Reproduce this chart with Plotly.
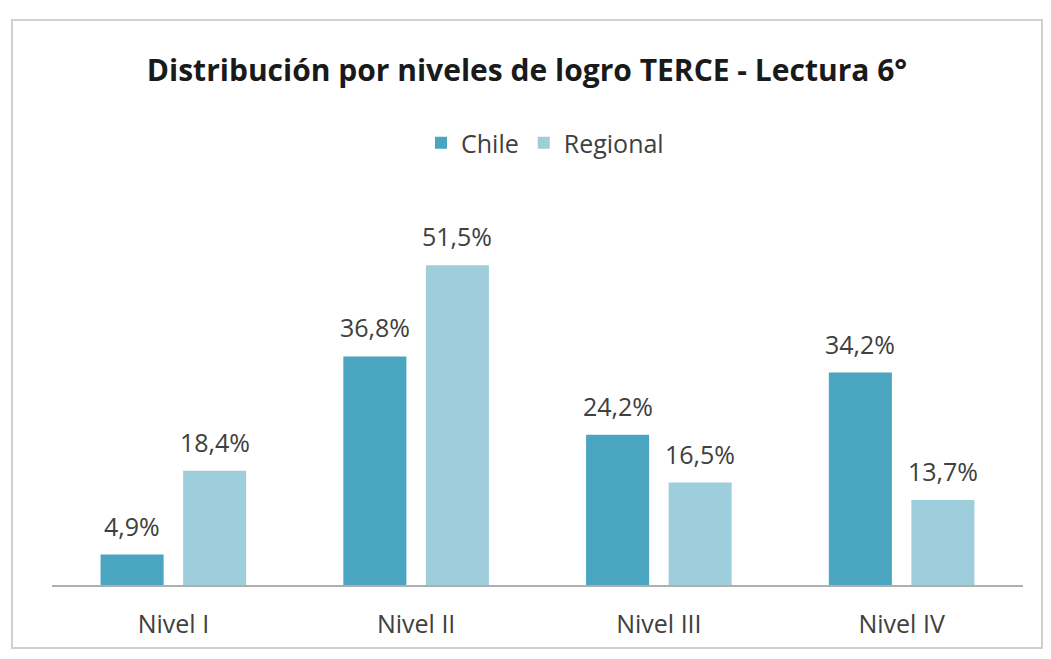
import plotly.graph_objects as go

categories = ["Nivel I", "Nivel II", "Nivel III", "Nivel IV"]
chile = [4.9, 36.8, 24.2, 34.2]
regional = [18.4, 51.5, 16.5, 13.7]
series_names = ["Chile", "Regional"]
colors = ["#4AA5C0", "#9ECDDC"]

FONT = "Open Sans"
fig = go.Figure()
for name, vals, col in zip(series_names, [chile, regional], colors):
    fig.add_trace(go.Bar(name=name, x=categories, y=vals, marker=dict(color=col, line=dict(width=0))))

# page body has an 8px default margin; layout below is expressed in page pixels
OFF = 8
W, H = 1051 - OFF, 659 - OFF
x_left, x_right, y_top, y_base = 52, 1023, 165, 585  # plot area in page pixels
left, right = x_left - OFF, (1051 - x_right)
top, bottom = y_top - OFF, 659 - y_base
plot_w = W - left - right
plot_h = H - top - bottom


def px(x):
    return (x - x_left) / plot_w


def py(y):
    return (y_base - y) / plot_h


slot = plot_w / len(categories) * (1 - 0.32) / 2

annotations = []
for k, vals in enumerate([chile, regional]):
    shift = (k - 0.5) * slot
    for c, v in zip(categories, vals):
        annotations.append(dict(x=c, y=v, xref="x", yref="y", text=f"{v:.1f}%".replace(".", ","),
                                showarrow=False, xshift=shift, yshift=29, yanchor="middle",
                                font=dict(family=FONT, size=25, color="#404040")))

fig.update_layout(
    width=W, height=H,
    margin=dict(l=left, r=right, t=top, b=bottom, autoexpand=False),
    paper_bgcolor="white", plot_bgcolor="white",
    barmode="group", bargap=0.32, bargroupgap=0.236,
    title=dict(text="<b>Distribución por niveles de logro TERCE - Lectura 6°</b>",
               x=(527 - OFF) / W, xanchor="center", y=1 - (70 - OFF) / H, yanchor="middle",
               font=dict(family=FONT, size=30, color="#1a1a1a")),
    legend=dict(orientation="h", x=px(545), xanchor="center", y=py(143), yanchor="middle",
                font=dict(family=FONT, size=25, color="#404040"), itemwidth=30, traceorder="normal"),
    annotations=annotations,
    shapes=[dict(type="rect", xref="paper", yref="paper",
                 x0=px(12), x1=px(1042), y0=py(648), y1=py(20),
                 line=dict(color="#D0D0D0", width=2), layer="below")],
    font=dict(family=FONT),
)
fig.update_xaxes(showline=True, linecolor="#AFAFAF", linewidth=2, showgrid=False, ticks="",
                 automargin=False,
                 tickfont=dict(family=FONT, size=25, color="#404040"), ticklabelstandoff=16)
fig.update_yaxes(range=[0, plot_h / 6.21], visible=False, showgrid=False, automargin=False)

fig.write_html("out.html")
